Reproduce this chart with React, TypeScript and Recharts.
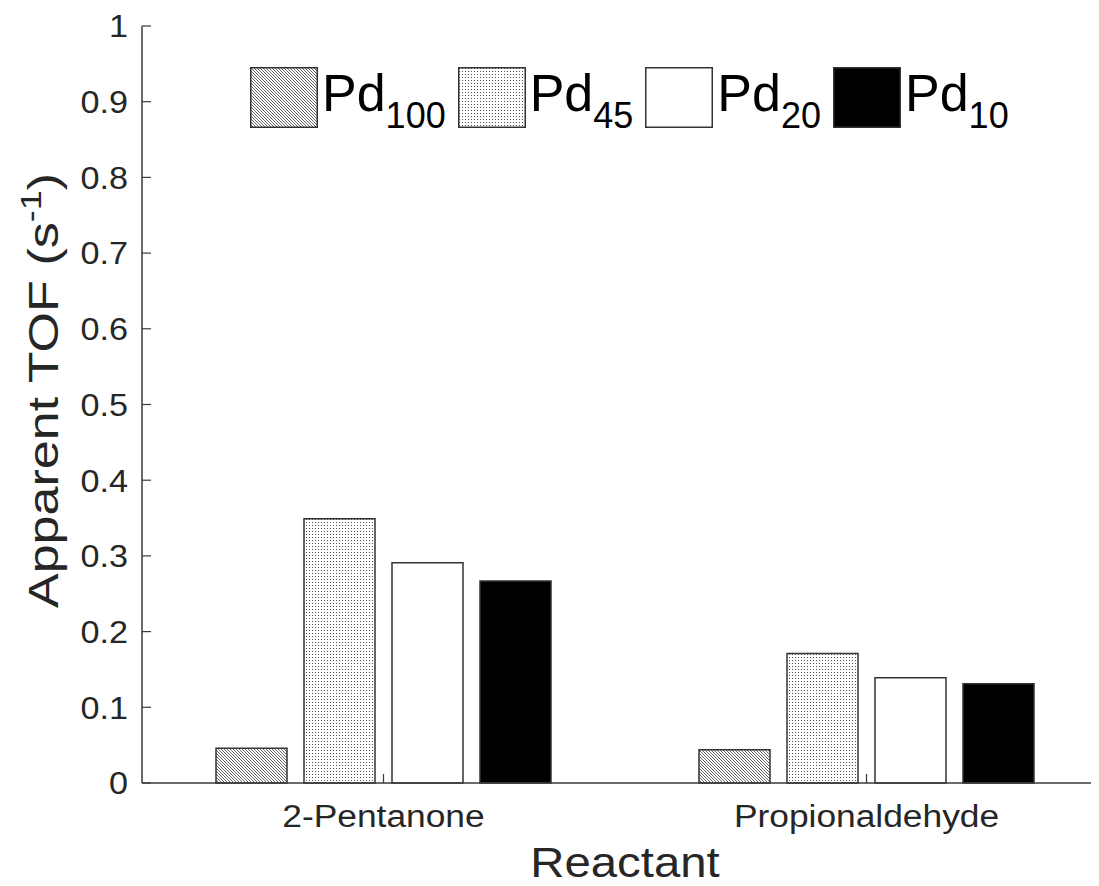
import React from 'react';
import { BarChart, Bar, XAxis, YAxis } from 'recharts';

const categories = ['2-Pentanone', 'Propionaldehyde'];
const pd100 = [0.046, 0.044];
const pd45 = [0.349, 0.171];
const pd20 = [0.291, 0.139];
const pd10 = [0.267, 0.131];
const seriesKeys = ['pd100', 'pd45', 'pd20', 'pd10'];
const legendBase = 'Pd';
const legendSubs = ['100', '45', '20', '10'];
const yTicks = [0, 0.1, 0.2, 0.3, 0.4, 0.5, 0.6, 0.7, 0.8, 0.9, 1];
const xTitle = 'Reactant';
const yTitleMain = 'Apparent TOF (s';
const yTitleSup = '-1';
const yTitleEnd = ')';

const data = categories.map((name, i) => ({
  name,
  pd100: pd100[i],
  pd45: pd45[i],
  pd20: pd20[i],
  pd10: pd10[i],
}));

const FONT = '"Liberation Sans", Arial, Helvetica, sans-serif';
const AXIS = '#3a3a3a';
const TEXT = '#262626';
const EDGE = '#333333';

const fillFor = (key: string, prefix: string) => {
  if (key === 'pd100') return `url(#${prefix}hatch)`;
  if (key === 'pd45') return `url(#${prefix}dots)`;
  if (key === 'pd20') return '#ffffff';
  return '#000000';
};

const PatternDefs = ({ prefix }: { prefix: string }) => (
  <defs>
    <pattern id={`${prefix}hatch`} width={3} height={3} patternUnits="userSpaceOnUse">
      <rect width={3} height={3} fill="#ffffff" />
      <path d="M-1,-1 L4,4 M-1,2 L1,4 M2,-1 L4,1" stroke="#555555" strokeWidth={0.9} />
    </pattern>
    <pattern id={`${prefix}dots`} width={3} height={3} patternUnits="userSpaceOnUse">
      <rect width={3} height={3} fill="#ffffff" />
      <rect x={1} y={1} width={1} height={1} fill="#555555" />
    </pattern>
  </defs>
);

const XTick = (props: any) => {
  const { x, y, payload } = props;
  return (
    <g transform={`translate(${x},${y})`}>
      <text
        transform="scale(1.14,1)"
        textAnchor="middle"
        dy="0.71em"
        fontFamily={FONT}
        fontSize={31}
        fill={TEXT}
      >
        {payload.value}
      </text>
    </g>
  );
};

const YTick = (props: any) => {
  const { x, y, payload } = props;
  return (
    <g transform={`translate(${x},${y})`}>
      <text
        transform="scale(1.07,1)"
        textAnchor="end"
        dy="0.355em"
        fontFamily={FONT}
        fontSize={32}
        fill={TEXT}
      >
        {String(payload.value)}
      </text>
    </g>
  );
};

const YLabel = (props: any) => {
  const vb = props.viewBox || { x: 0, y: 0, width: 0, height: 0 };
  const x = vb.x + 50;
  const y = vb.y + vb.height / 2 - 14;
  return (
    <g transform={`translate(${x},${y}) rotate(-90) scale(1.24,1)`}>
      <text x={0} y={0} textAnchor="middle" fontFamily={FONT} fontSize={42} fill={TEXT}>
        {yTitleMain}
        <tspan dy={-17} fontSize={29}>{yTitleSup}</tspan>
        <tspan dy={17}>{yTitleEnd}</tspan>
      </text>
    </g>
  );
};

const XLabel = (props: any) => {
  const vb = props.viewBox || { x: 0, y: 0, width: 0, height: 0 };
  const cx = vb.x + vb.width / 2;
  return (
    <g transform={`translate(${cx},${vb.y + 94}) scale(1.1,1)`}>
      <text x={0} y={0} textAnchor="middle" fontFamily={FONT} fontSize={43} fill={TEXT}>
        {xTitle}
      </text>
    </g>
  );
};

const LegendOverlay = () => (
  <div
    style={{
      position: 'absolute',
      left: 242,
      top: 59,
      display: 'flex',
      alignItems: 'flex-start',
      fontFamily: FONT,
      color: '#000000',
      whiteSpace: 'nowrap',
    }}
  >
    {seriesKeys.map((key, i) => (
      <div key={key} style={{ display: 'flex', alignItems: 'flex-start', marginRight: 12 }}>
        <svg width={68} height={61} style={{ display: 'block' }}>
          <PatternDefs prefix={`lg${i}-`} />
          <rect
            x={0.75}
            y={0.75}
            width={66.5}
            height={59.5}
            fill={fillFor(key, `lg${i}-`)}
            stroke={EDGE}
            strokeWidth={1.5}
          />
        </svg>
        <div style={{ marginLeft: 4, fontSize: 52, lineHeight: '52px', height: 61 }}>
          {legendBase}
          <span style={{ fontSize: 36, position: 'relative', top: 17 }}>{legendSubs[i]}</span>
        </div>
      </div>
    ))}
  </div>
);

export default function App() {
  return (
    <div style={{ position: 'relative', width: 1091, height: 878, overflow: 'hidden', background: '#ffffff' }}>
      <BarChart
        width={1110}
        height={878}
        data={data}
        margin={{ top: 18, right: 10, bottom: 0, left: 0 }}
        barSize={71}
        barGap={17}
      >
        <PatternDefs prefix="" />
        <XAxis
          dataKey="name"
          xAxisId={0}
          height={103}
          tickSize={-9}
          tickMargin={31}
          axisLine={{ stroke: AXIS, strokeWidth: 1.5 }}
          tickLine={{ stroke: AXIS, strokeWidth: 1.2 }}
          tick={<XTick />}
          label={<XLabel />}
        />
        <XAxis
          dataKey="name"
          xAxisId="top"
          orientation="top"
          height={0}
          tickSize={-9}
          tick={false}
          axisLine={{ stroke: AXIS, strokeWidth: 1.5 }}
          tickLine={{ stroke: AXIS, strokeWidth: 1.2 }}
        />
        <YAxis
          width={134}
          domain={[0, 1]}
          ticks={yTicks}
          interval={0}
          tickSize={-9}
          tickMargin={23}
          axisLine={{ stroke: AXIS, strokeWidth: 1.5 }}
          tickLine={{ stroke: AXIS, strokeWidth: 1.2 }}
          tick={<YTick />}
          label={<YLabel />}
        />
        {seriesKeys.map((key) => (
          <Bar
            key={key}
            dataKey={key}
            fill={fillFor(key, '')}
            stroke={EDGE}
            strokeWidth={1.5}
            isAnimationActive={false}
          />
        ))}
      </BarChart>
      <LegendOverlay />
    </div>
  );
}
